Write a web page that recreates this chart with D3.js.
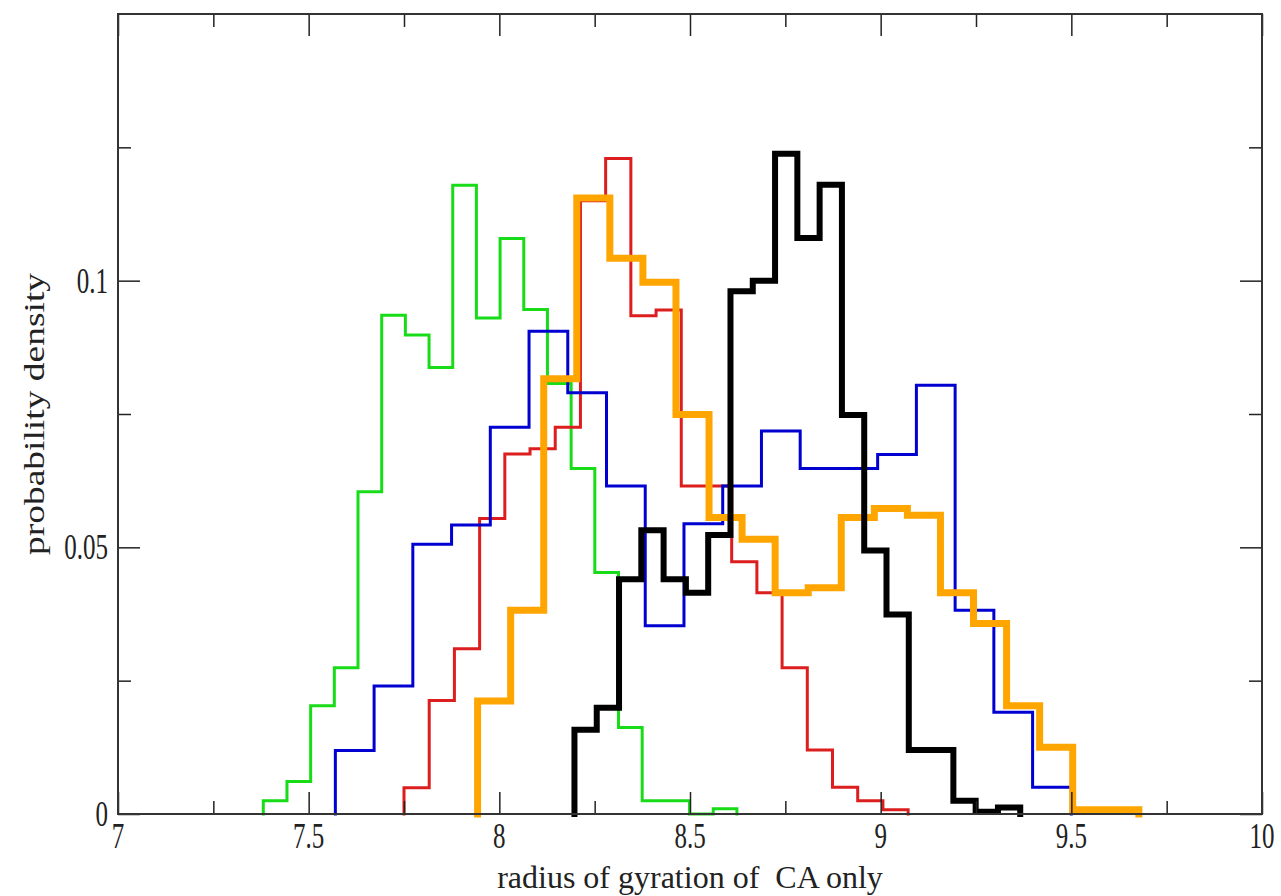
<!DOCTYPE html>
<html>
<head>
<meta charset="utf-8">
<script src="https://cdn.jsdelivr.net/npm/d3@7"></script>
<style>
  body { margin: 0; background: #fff; }
  svg text { font-family: "Liberation Serif", "DejaVu Serif", serif; fill: #222; white-space: pre; }
</style>
</head>
<body>
<svg id="chart" width="1281" height="896"></svg>
<script>
// axis setup
const xMajor = [7, 7.5, 8, 8.5, 9, 9.5, 10];
const xMinor = [7.25, 7.75, 8.25, 8.75, 9.25, 9.75];
const yMajor = [0, 0.05, 0.1];
const yMinor = [0.025, 0.075, 0.125];

// histograms: [first edge, last edge] and density of each bin
const greenRange = [7.381, 8.623];
const greenDensity = [0.0025, 0.0061, 0.0203, 0.0274, 0.0604, 0.0935, 0.0898, 0.0837, 0.1179, 0.093,
  0.1079, 0.0946, 0.0807, 0.0648, 0.0453, 0.0162, 0.0025, 0.0025, 0.0, 0.001];

const redRange = [7.75, 9.072];
const redDensity = [0.0049, 0.0213, 0.031, 0.0554, 0.0675, 0.0685, 0.0725, 0.115, 0.1229, 0.0934,
  0.0945, 0.0615, 0.0615, 0.0473, 0.0415, 0.0274, 0.012, 0.005, 0.0025, 0.0008];

const blueRange = [7.57, 9.5];
const blueDensity = [0.0119, 0.024, 0.0506, 0.0542, 0.0725, 0.0905, 0.079, 0.0615, 0.0353, 0.0544,
  0.0615, 0.0718, 0.0648, 0.0648, 0.0674, 0.0804, 0.0382, 0.0191, 0.005];

const orangeRange = [7.943, 9.677];
const orangeDensity = [0.0212, 0.0382, 0.0816, 0.1155, 0.1042, 0.0997, 0.0749, 0.0556, 0.0515, 0.0415,
  0.0424, 0.0556, 0.0573, 0.056, 0.0415, 0.0357, 0.0203, 0.0125, 0.0008, 0.0008];

const blackRange = [8.197, 9.366];
const blackDensity = [0.0158, 0.0199, 0.044, 0.0532, 0.044, 0.0415, 0.0523, 0.098, 0.1, 0.1238,
  0.108, 0.118, 0.0748, 0.0494, 0.0374, 0.012, 0.012, 0.0025, 0.0004, 0.0012];

const series = [
  { range: greenRange, values: greenDensity, color: '#19dc19', width: 3 },
  { range: redRange, values: redDensity, color: '#dc1e1e', width: 3 },
  { range: blueRange, values: blueDensity, color: '#0000d0', width: 3 },
  { range: orangeRange, values: orangeDensity, color: '#ffa500', width: 7 },
  { range: blackRange, values: blackDensity, color: '#000', width: 6 }
];

const frame = { left: 118, right: 1262, top: 14, bottom: 814 };

const x = d3.scaleLinear().domain([7, 10]).range([frame.left, frame.right]);
const y = d3.scaleLinear().domain([0, 0.15]).range([frame.bottom, frame.top]);

const svg = d3.select('#chart');

// turn bins into step points: start at zero, one point per bin, back to zero
function stepPoints(s) {
  const n = s.values.length;
  const [lo, hi] = s.range;
  const pts = [[lo, 0]];
  s.values.forEach((v, i) => pts.push([lo + i * (hi - lo) / n, v]));
  pts.push([hi, 0]);
  return pts;
}

const line = d3.line()
  .x(d => x(d[0]))
  .y(d => y(d[1]))
  .curve(d3.curveStepAfter);

svg.append('g')
  .selectAll('path')
  .data(series)
  .join('path')
  .attr('d', d => line(stepPoints(d)))
  .attr('fill', 'none')
  .attr('stroke', d => d.color)
  .attr('stroke-width', d => d.width)
  .attr('stroke-linejoin', 'miter')
  .attr('stroke-linecap', 'square');

// ticks point inward, on all four sides; labels drawn separately
function styleAxis(g) {
  g.select('.domain').remove();
  g.selectAll('.tick line').attr('stroke', '#222').attr('stroke-width', 1.5);
  g.selectAll('.tick text').remove();
}

const ticks = [
  [d3.axisBottom(x).tickValues(xMajor).tickSize(-22), `translate(0,${frame.bottom})`],
  [d3.axisBottom(x).tickValues(xMinor).tickSize(-13), `translate(0,${frame.bottom})`],
  [d3.axisTop(x).tickValues(xMajor).tickSize(-22), `translate(0,${frame.top})`],
  [d3.axisTop(x).tickValues(xMinor).tickSize(-13), `translate(0,${frame.top})`],
  [d3.axisLeft(y).tickValues(yMajor).tickSize(-22), `translate(${frame.left},0)`],
  [d3.axisLeft(y).tickValues(yMinor).tickSize(-13), `translate(${frame.left},0)`],
  [d3.axisRight(y).tickValues(yMajor).tickSize(-22), `translate(${frame.right},0)`],
  [d3.axisRight(y).tickValues(yMinor).tickSize(-13), `translate(${frame.right},0)`]
];
ticks.forEach(([axis, tr]) => {
  svg.append('g').attr('transform', tr).call(axis).call(styleAxis);
});

const fmt = d => (d === 0 ? '0' : String(d));

// tall, narrow tick labels like the original export
svg.append('g')
  .selectAll('text')
  .data(xMajor)
  .join('text')
  .attr('transform', d => `translate(${x(d)},${frame.bottom + 9}) scale(1,1.4)`)
  .attr('dy', '0.71em')
  .attr('text-anchor', 'middle')
  .attr('font-size', 25)
  .text(fmt);

svg.append('g')
  .selectAll('text')
  .data(yMajor)
  .join('text')
  .attr('transform', d => `translate(${frame.left - 10},${y(d)}) scale(1,1.4)`)
  .attr('dy', '0.34em')
  .attr('text-anchor', 'end')
  .attr('font-size', 25)
  .text(fmt);

// frame
svg.append('rect')
  .attr('x', frame.left).attr('y', frame.top)
  .attr('width', frame.right - frame.left).attr('height', frame.bottom - frame.top)
  .attr('fill', 'none')
  .attr('stroke', '#333')
  .attr('stroke-width', 2);

// titles
svg.append('text')
  .attr('x', (frame.left + frame.right) / 2)
  .attr('y', 888)
  .attr('text-anchor', 'middle')
  .attr('font-size', 32)
  .text('radius of gyration of  CA only');

svg.append('text')
  .attr('transform', `translate(44,${(frame.top + frame.bottom) / 2}) rotate(-90) scale(1.25,1)`)
  .attr('text-anchor', 'middle')
  .attr('font-size', 30)
  .text('probability density');
</script>
</body>
</html>
